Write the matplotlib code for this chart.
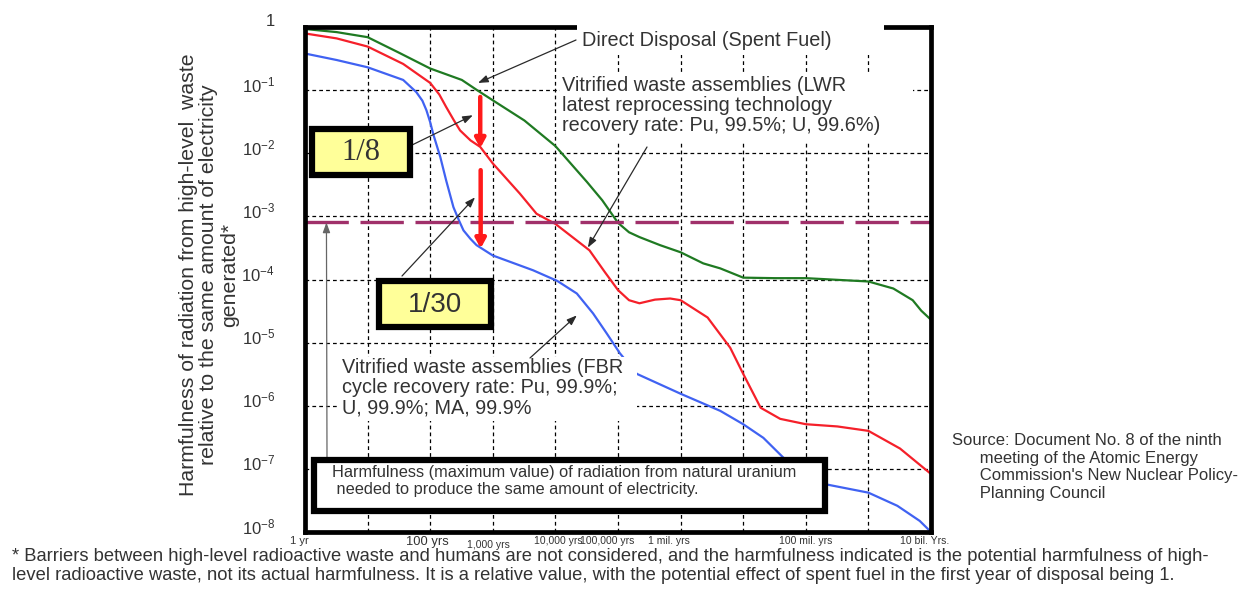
import matplotlib
matplotlib.use('Agg')
import matplotlib.pyplot as plt
from matplotlib.patches import Rectangle
from matplotlib.ticker import NullLocator

plt.rcParams['font.family'] = ['Liberation Sans', 'DejaVu Sans']
plt.rcParams['mathtext.fontset'] = 'custom'
plt.rcParams['mathtext.rm'] = 'Liberation Sans'
plt.rcParams['mathtext.it'] = 'Liberation Sans:italic'
plt.rcParams['mathtext.bf'] = 'Liberation Sans:bold'

# ---------------- data ----------------
direct_years = [1, 3.2, 10, 32, 100, 320, 560, 1000, 3200, 1e4, 3.2e4, 5.6e4, 1e5,
                1.5e5, 2.2e5, 4.7e5, 1e6, 2.3e6, 4.3e6, 1e7, 3.2e7, 1e8, 1e9,
                2.5e9, 5.1e9, 7e9, 1e10]
direct_harm = [0.93, 0.83, 0.69, 0.39, 0.22, 0.145, 0.10, 0.069, 0.033, 0.013, 3.5e-3,
               1.8e-3, 7.9e-4, 5.6e-4, 4.7e-4, 3.5e-4, 2.7e-4, 1.8e-4, 1.5e-4, 1.07e-4,
               1.05e-4, 1.05e-4, 9.3e-5, 7.2e-5, 4.7e-5, 3.2e-5, 2.3e-5]

lwr_years = [1, 3.2, 10, 37, 100, 140, 180, 240, 300, 440, 630, 1000, 2700, 5000, 1e4,
             3.5e4, 6.2e4, 1e5, 1.5e5, 2.2e5, 3.9e5, 6.8e5, 1e6, 2.7e6, 6.2e6, 1e7,
             1.9e7, 3.9e7, 1e8, 3.2e8, 1e9, 3.2e9, 1e10]
lwr_harm = [0.79, 0.66, 0.49, 0.26, 0.13, 0.085, 0.054, 0.033, 0.023, 0.016, 0.0126,
            6.9e-3, 2.3e-3, 1.1e-3, 7.6e-4, 2.9e-4, 1.3e-4, 6.8e-5, 4.7e-5, 4.2e-5,
            4.8e-5, 5.0e-5, 4.7e-5, 2.5e-5, 8.3e-6, 3.2e-6, 9.3e-7, 6.2e-7, 5.1e-7,
            4.7e-7, 4.0e-7, 2.1e-7, 8.3e-8]

fbr_years = [1, 3.2, 10, 37, 60, 75, 87, 100, 112, 128, 145, 180, 235, 290, 340, 440, 550,
             1000, 4400, 1.07e4, 2.2e4, 4e4, 6.6e4, 1.07e5, 2e5, 1e6, 4.3e6, 1e7, 2.1e7,
             4.4e7, 9e7, 1.9e8, 1e9, 2.9e9, 6.6e9, 1e10]
fbr_harm = [0.38, 0.30, 0.23, 0.145, 0.093, 0.068, 0.048, 0.031, 0.020, 0.013, 8.7e-3,
            3.7e-3, 1.4e-3, 8.5e-4, 6.0e-4, 4.4e-4, 3.5e-4, 2.4e-4, 1.4e-4, 9.5e-5, 6.0e-5,
            2.9e-5, 1.4e-5, 6.8e-6, 3.2e-6, 1.55e-6, 8.3e-7, 5.1e-7, 3.1e-7, 1.5e-7,
            8.7e-8, 5.8e-8, 4.2e-8, 2.6e-8, 1.5e-8, 1.0e-8]

natural_u_level = 8e-4

x_grid = [1, 10, 100, 1e3, 1e4, 1e5, 1e6, 1e7, 1e8, 1e9, 1e10]
x_tick_vals = [1, 100, 1e3, 1e4, 1e5, 1e6, 1e8, 1e10]
x_tick_labels = ['1 yr', '100 yrs', '1,000 yrs', '10,000 yrs', '100,000 yrs',
                 '1 mil. yrs', '100 mil. yrs', '10 bil. Yrs.']
y_tick_vals = [1, 1e-1, 1e-2, 1e-3, 1e-4, 1e-5, 1e-6, 1e-7, 1e-8]
y_tick_labels = ['1', r'$10^{-1}$', r'$10^{-2}$', r'$10^{-3}$', r'$10^{-4}$',
                 r'$10^{-5}$', r'$10^{-6}$', r'$10^{-7}$', r'$10^{-8}$']

# ---------------- figure ----------------
W, H = 1260, 592
fig = plt.figure(figsize=(W / 100, H / 100), dpi=100)
fig.patch.set_facecolor('white')


def P(x, y):
    return (x / W, 1 - y / H)


ax = fig.add_axes([305 / W, 1 - 532 / H, (931 - 305) / W, (532 - 27) / H])
ax.set_xscale('log')
ax.set_yscale('log')

ax.plot(direct_years, direct_harm, color='#1f7a22', lw=1.6, zorder=2)
ax.plot(lwr_years, lwr_harm, color='#f5202a', lw=1.6, zorder=2)
ax.plot(fbr_years, fbr_harm, color='#4062f2', lw=1.6, zorder=2)
ax.axhline(natural_u_level, color='#a0306a', lw=2.4, dashes=(13, 3.5), zorder=2)

ax.set_xlim(1, 1e10)
ax.set_ylim(1e-8, 1)
ax.set_xticks(x_grid)
ax.set_xticklabels([])
ax.xaxis.set_minor_locator(NullLocator())
ax.set_yticks(y_tick_vals)
ax.set_yticklabels([])
ax.yaxis.set_minor_locator(NullLocator())
ax.tick_params(length=0)
ax.grid(True, which='major', color='black', linestyle=(0, (3, 2.5)), linewidth=0.9)
for s in ax.spines.values():
    s.set_linewidth(3.4)
    s.set_color('black')

# y tick labels (sit slightly above their grid lines, as in the original)
for val, lab in zip(y_tick_vals, y_tick_labels):
    ax.annotate(lab, xy=(0, val), xycoords=ax.get_yaxis_transform(),
                xytext=(-30, 5), textcoords='offset pixels', ha='right', va='center',
                fontsize=12, color='#333333', annotation_clip=False)

# x tick labels with small individual nudges / sizes
x_offsets = [(-6, 0), (-3, 0), (-4, 4), (3, 0), (-11, 0), (-12, 0), (0, 0), (-6, 0)]
x_sizes = [8, 9.3, 7.5, 7.5, 7.5, 7.5, 7.5, 7.5]
for val, lab, (dx, dy), fs in zip(x_tick_vals, x_tick_labels, x_offsets, x_sizes):
    ax.annotate(lab, xy=(val, 0), xycoords=ax.get_xaxis_transform(),
                xytext=(dx, -4 - dy), textcoords='offset pixels',
                ha='center', va='top', fontsize=fs, color='#333333',
                annotation_clip=False)

tf = fig.transFigure

# white backgrounds behind annotation texts (hide grid / frame as in the original)
for (x0, y0, x1, y1) in [(577, 16, 884, 55), (560, 75, 913, 143), (338, 357, 637, 421)]:
    ax.add_artist(Rectangle(P(x0, y1), (x1 - x0) / W, (y1 - y0) / H, transform=tf,
                            facecolor='white', edgecolor='none', zorder=3, clip_on=False))

txt_kw = dict(transform=tf, fontsize=14.3, color='#333333', zorder=4, clip_on=False)
ax.text(*P(582, 41), 'Direct Disposal (Spent Fuel)', va='center', ha='left', **txt_kw)
ax.text(*P(562, 76), 'Vitrified waste assemblies (LWR\nlatest reprocessing technology\n'
        'recovery rate: Pu, 99.5%; U, 99.6%)', va='top', ha='left', linespacing=1.08, **txt_kw)
ax.text(*P(342, 358), 'Vitrified waste assemblies (FBR\ncycle recovery rate: Pu, 99.9%;\n'
        'U, 99.9%; MA, 99.9%', va='top', ha='left', linespacing=1.08, **txt_kw)

# thin pointer arrows
thin = dict(arrowstyle='-|>,head_length=0.6,head_width=0.22', color='#2a2a2a', lw=0.9,
            shrinkA=0, shrinkB=0)
ax.annotate('', xy=(580, 0.13), xycoords='data', xytext=P(576, 40),
            textcoords='figure fraction', arrowprops=thin, zorder=5, annotation_clip=False)
ax.annotate('', xy=(3.3e4, 3.2e-4), xycoords='data', xytext=P(647, 147),
            textcoords='figure fraction', arrowprops=thin, zorder=5, annotation_clip=False)
ax.annotate('', xy=(480, 0.04), xycoords='data', xytext=P(410, 146),
            textcoords='figure fraction', arrowprops=thin, zorder=5, annotation_clip=False)
ax.annotate('', xy=(520, 2e-3), xycoords='data', xytext=P(402, 276),
            textcoords='figure fraction', arrowprops=thin, zorder=5, annotation_clip=False)
ax.annotate('', xy=(2.2e4, 2.7e-5), xycoords='data', xytext=P(530, 358),
            textcoords='figure fraction', arrowprops=thin, zorder=5, annotation_clip=False)
ax.annotate('', xy=(2.2, natural_u_level), xycoords='data', xytext=P(327, 458),
            textcoords='figure fraction',
            arrowprops=dict(arrowstyle='-|>,head_length=0.6,head_width=0.22', color='#666666',
                            lw=0.9, shrinkA=0, shrinkB=0), zorder=5, annotation_clip=False)

# thick red reduction arrows
red = dict(arrowstyle='-|>,head_length=0.55,head_width=0.3', color='#ff1a1a', lw=3.2,
           shrinkA=0, shrinkB=0)
ax.annotate('', xy=(630, 0.012), xytext=(630, 0.078), arrowprops=red, zorder=5)
ax.annotate('', xy=(640, 3.1e-4), xytext=(640, 5.4e-3), arrowprops=red, zorder=5)

# yellow ratio boxes
for (x0, y0, x1, y1, s, fam, fs) in [(312, 129, 410, 175, '1/8', 'Liberation Serif', 22),
                                     (379, 281, 491, 327, '1/30', 'Liberation Sans', 20)]:
    ax.add_artist(Rectangle(P(x0, y1), (x1 - x0) / W, (y1 - y0) / H, transform=tf,
                            facecolor='#ffff99', edgecolor='black', lw=4.5, zorder=6,
                            clip_on=False))
    ax.text(*P((x0 + x1) / 2, (y0 + y1) / 2 + 1), s, transform=tf, ha='center', va='center',
            fontsize=fs, family=fam, color='#333333', zorder=7, clip_on=False)

# natural uranium box
ax.add_artist(Rectangle(P(314, 511), (825 - 314) / W, (511 - 460) / H, transform=tf,
                        facecolor='white', edgecolor='black', lw=4.5, zorder=6, clip_on=False))
ax.text(*P(332, 465), 'Harmfulness (maximum value) of radiation from natural uranium\n'
        ' needed to produce the same amount of electricity.', transform=tf, ha='left',
        va='top', fontsize=11.8, color='#333333', linespacing=1.2, zorder=7, clip_on=False)

# y label
fig.text(*P(209, 275), 'Harmfulness of radiation from high-level  waste\n'
         'relative to the same amount of electricity\ngenerated*', rotation=90,
         ha='center', va='center', multialignment='center', fontsize=15.3,
         color='#333333', linespacing=1.08)

# source
fig.text(*P(952, 433), "Source: Document No. 8 of the ninth\n"
         "      meeting of the Atomic Energy\n"
         "      Commission's New Nuclear Policy-\n"
         "      Planning Council", ha='left', va='top', fontsize=12,
         color='#333333', linespacing=1.22)

# footnote
fig.text(*P(12, 548), "* Barriers between high-level radioactive waste and humans are not "
         "considered, and the harmfulness indicated is the potential harmfulness of high-\n"
         "level radioactive waste, not its actual harmfulness. It is a relative value, "
         "with the potential effect of spent fuel in the first year of disposal being 1.",
         ha='left', va='top', fontsize=13.2, color='#333333', linespacing=1.15)

fig.savefig('out.png', dpi=100)
